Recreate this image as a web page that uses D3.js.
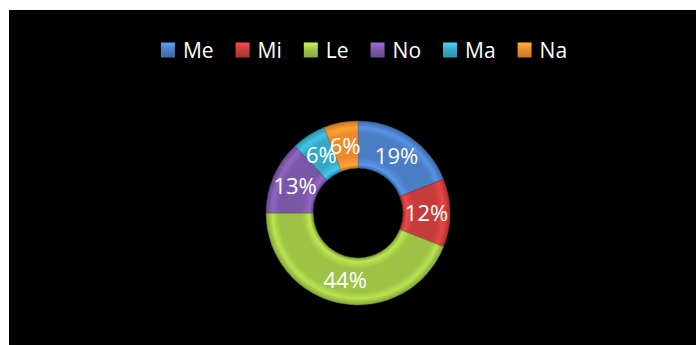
<!DOCTYPE html>
<html>
<head>
<meta charset="utf-8">
<script src="https://cdn.jsdelivr.net/npm/d3@7"></script>
<style>
  html, body { margin: 0; padding: 0; background: #ffffff; }
  svg { display: block; }
</style>
</head>
<body>
<svg id="chart" width="696" height="345"></svg>
<script>
// ---- data ----
const categories = ["Me", "Mi", "Le", "No", "Ma", "Na"];
const values = [19, 12, 44, 13, 6, 6];
const labels = ["19%", "12%", "44%", "13%", "6%", "6%"];
const colors = ["#4a7dc4", "#c63c3b", "#9dc245", "#7a57a6", "#36a8c6", "#ec8a2c"];

const W = 696, H = 345;
const svg = d3.select("#chart");
const defs = svg.append("defs");

// black chart area
svg.append("rect").attr("x", 9).attr("y", 10).attr("width", W - 9).attr("height", H - 10).attr("fill", "#000");

const cx = 358, cy = 213, rOuter = 92, rInner = 45;
const g = svg.append("g").attr("transform", `translate(${cx},${cy})`);

const pie = d3.pie().value(d => d).sort(null);
const arc = d3.arc().innerRadius(rInner).outerRadius(rOuter);
const labelArc = d3.arc().innerRadius(rInner).outerRadius(rOuter);
const arcs = pie(values);

// bevel-like radial gradients
colors.forEach((c, i) => {
  const base = d3.color(c);
  const grad = defs.append("radialGradient")
    .attr("id", "grad" + i)
    .attr("gradientUnits", "userSpaceOnUse")
    .attr("cx", 0).attr("cy", 0).attr("r", rOuter)
    .attr("fx", 0).attr("fy", 0);
  const k = rInner / rOuter;
  grad.append("stop").attr("offset", k).attr("stop-color", base.darker(0.6));
  grad.append("stop").attr("offset", k + 0.04).attr("stop-color", base.brighter(0.5));
  grad.append("stop").attr("offset", k + 0.12).attr("stop-color", base);
  grad.append("stop").attr("offset", 0.86).attr("stop-color", base);
  grad.append("stop").attr("offset", 0.93).attr("stop-color", base.brighter(0.45));
  grad.append("stop").attr("offset", 1).attr("stop-color", base.darker(0.5));
});

g.selectAll("path.slice")
  .data(arcs)
  .join("path")
  .attr("class", "slice")
  .attr("d", arc)
  .attr("fill", (d, i) => `url(#grad${i})`)
  .attr("stroke", (d, i) => d3.color(colors[i]).darker(0.8))
  .attr("stroke-width", 0.8)
  .attr("stroke-opacity", 0.6);

g.selectAll("text.lbl")
  .data(arcs)
  .join("text")
  .attr("class", "lbl")
  .attr("transform", d => `translate(${labelArc.centroid(d)})`)
  .attr("text-anchor", "middle")
  .attr("dy", "0.36em")
  .attr("font-family", "'Open Sans', sans-serif")
  .attr("font-size", 22)
  .attr("fill", "#fff")
  .text((d, i) => labels[i]);

// ---- legend ----
const legend = svg.append("g");
const sq = 14, gapText = 8, gapItem = 22;
const items = legend.selectAll("g.item").data(categories).join("g").attr("class", "item");
items.append("rect")
  .attr("width", sq).attr("height", sq + 1)
  .attr("y", -7.5)
  .attr("fill", (d, i) => {
    const base = d3.color(colors[i]);
    const id = "lg" + i;
    const lg = defs.append("linearGradient").attr("id", id).attr("x1", 0).attr("y1", 0).attr("x2", 0).attr("y2", 1);
    lg.append("stop").attr("offset", 0).attr("stop-color", base.brighter(0.7));
    lg.append("stop").attr("offset", 0.5).attr("stop-color", base);
    lg.append("stop").attr("offset", 1).attr("stop-color", base.darker(0.4));
    return `url(#${id})`;
  });
items.append("text")
  .attr("x", sq + gapText)
  .attr("dy", "0.36em")
  .attr("font-family", "'Open Sans', sans-serif")
  .attr("font-size", 21)
  .attr("fill", "#fff")
  .text(d => d);

let x = 0;
items.each(function () {
  const t = d3.select(this).select("text").node().getComputedTextLength();
  d3.select(this).attr("transform", `translate(${x},0)`);
  x += sq + gapText + t + gapItem;
});
const totalW = x - gapItem;
legend.attr("transform", `translate(${364 - totalW / 2},50)`);
</script>
</body>
</html>
